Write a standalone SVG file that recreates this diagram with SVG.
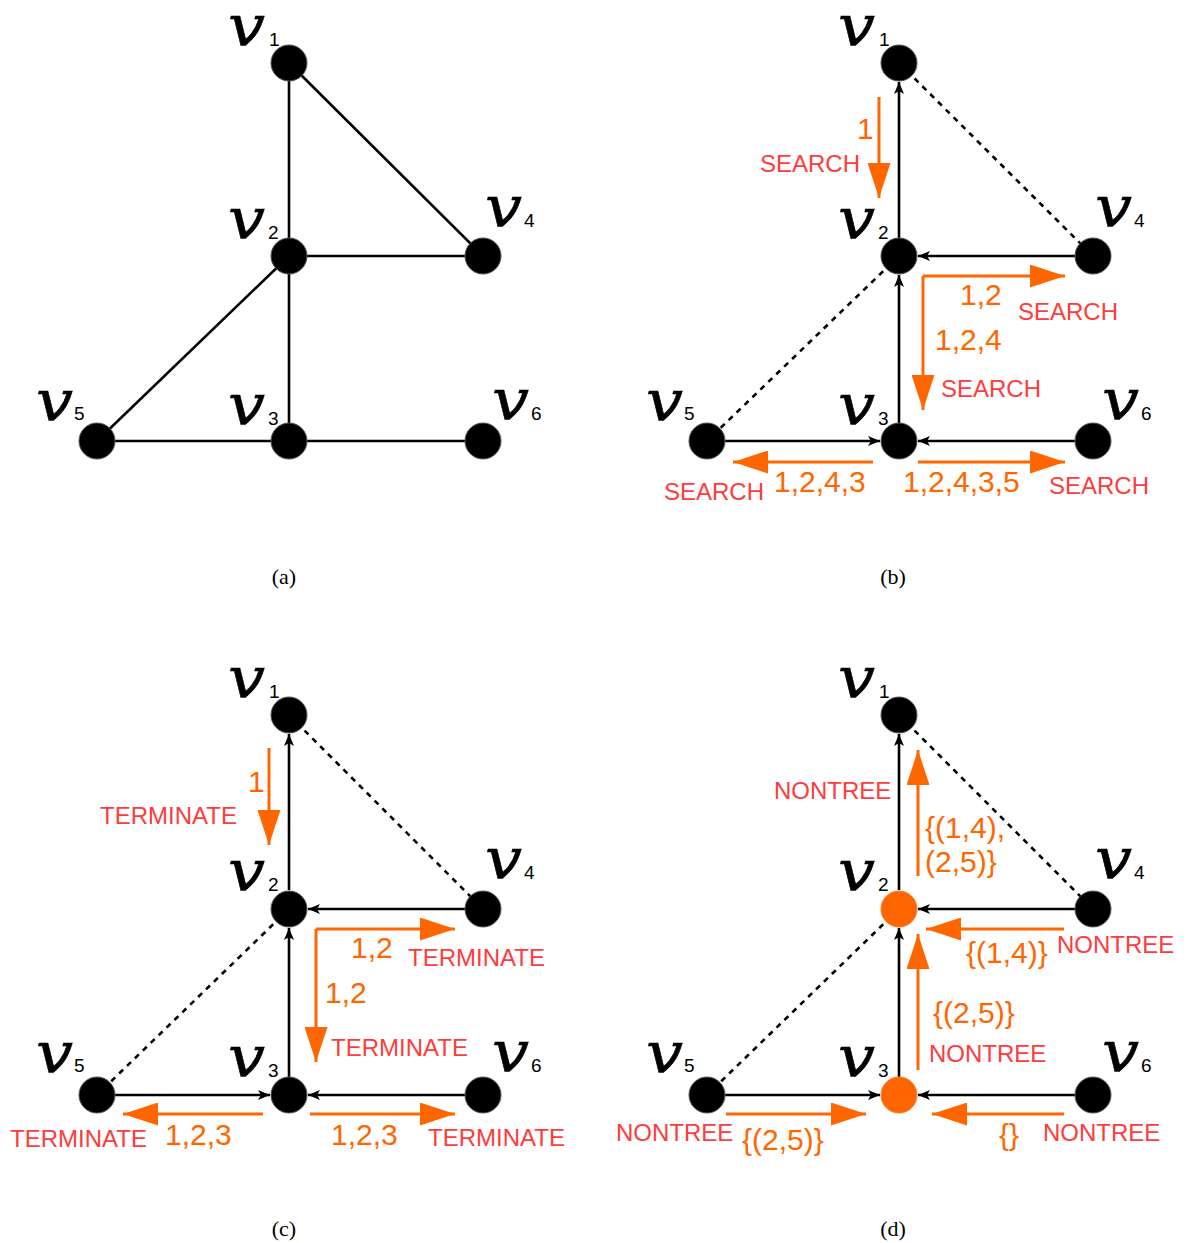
<svg xmlns="http://www.w3.org/2000/svg" width="1187" height="1243" viewBox="0 0 1187 1243">
<style>
.bg{fill:#fff}
.node{fill:#000;stroke:#555;stroke-width:1}
.onode{fill:#ff6600;stroke:#ff7a26;stroke-width:1}
.v{font-family:"DejaVu Serif",serif;font-style:italic;font-size:56px;fill:#000;stroke:#000;stroke-width:0.6}
.sub{font-family:"Liberation Sans",Arial,sans-serif;font-size:19px;fill:#000}
.e{stroke:#000;stroke-width:2.6;fill:none}
.d{stroke:#000;stroke-width:2.6;fill:none;stroke-dasharray:5.5,5.5}
.a{stroke:#000;stroke-width:2.6;fill:none;marker-end:url(#bh)}
.o{stroke:#ff6600;stroke-width:3;fill:none;marker-end:url(#oh)}
.ot{font-family:"Liberation Sans",Arial,sans-serif;font-size:30px;fill:#ff6600}
.rt{font-family:"Liberation Sans",Arial,sans-serif;font-size:24px;fill:#ff3b3b}
.cap{font-family:"Liberation Serif","Times New Roman",serif;font-size:22px;fill:#000;text-anchor:middle}
</style>
<defs>
<marker id="bh" viewBox="0 0 12 10" refX="12" refY="5" markerWidth="12" markerHeight="10" markerUnits="userSpaceOnUse" orient="auto"><path d="M0,0 L12,5 L0,10 L3,5 z" fill="#000"/></marker>
<marker id="oh" viewBox="0 0 35 23" refX="35" refY="11.5" markerWidth="35" markerHeight="23" markerUnits="userSpaceOnUse" orient="auto"><path d="M0,0 L35,11.5 L0,23 z" fill="#ff6600"/></marker>
</defs>
<rect class="bg" x="0" y="0" width="1187" height="1243"/>

<!-- ===== Panel (a) ===== -->
<g id="a-connectors">
<line class="e" x1="289" y1="63" x2="289" y2="256"/>
<line class="e" x1="289" y1="63" x2="483" y2="256"/>
<line class="e" x1="289" y1="256" x2="483" y2="256"/>
<line class="e" x1="289" y1="256" x2="97" y2="441"/>
<line class="e" x1="289" y1="256" x2="289" y2="441"/>
<line class="e" x1="97" y1="441" x2="483" y2="441"/>
</g>
<g id="a-v1"><circle class="node" cx="289" cy="63" r="18"/><text class="v" x="228" y="45" textLength="37" lengthAdjust="spacingAndGlyphs">v</text><text class="sub" x="269" y="46">1</text></g>
<g id="a-v2"><circle class="node" cx="289" cy="256" r="18"/><text class="v" x="228" y="238" textLength="37" lengthAdjust="spacingAndGlyphs">v</text><text class="sub" x="268" y="239">2</text></g>
<g id="a-v4"><circle class="node" cx="483" cy="256" r="18"/><text class="v" x="485" y="226" textLength="37" lengthAdjust="spacingAndGlyphs">v</text><text class="sub" x="524" y="227">4</text></g>
<g id="a-v5"><circle class="node" cx="97" cy="441" r="18"/><text class="v" x="36" y="420" textLength="37" lengthAdjust="spacingAndGlyphs">v</text><text class="sub" x="74" y="420">5</text></g>
<g id="a-v3"><circle class="node" cx="289" cy="441" r="18"/><text class="v" x="228" y="424" textLength="37" lengthAdjust="spacingAndGlyphs">v</text><text class="sub" x="268" y="425">3</text></g>
<g id="a-v6"><circle class="node" cx="483" cy="441" r="18"/><text class="v" x="492" y="419" textLength="37" lengthAdjust="spacingAndGlyphs">v</text><text class="sub" x="531" y="420">6</text></g>
<text class="cap" x="284" y="584">(a)</text>

<!-- ===== Panel (b) ===== -->
<g id="b-connectors">
<line class="a" x1="899" y1="238" x2="899" y2="82"/>
<line class="d" x1="899" y1="63" x2="1093" y2="256"/>
<line class="a" x1="1075" y1="256" x2="918" y2="256"/>
<line class="d" x1="899" y1="256" x2="707" y2="441"/>
<line class="a" x1="899" y1="423" x2="899" y2="275"/>
<line class="a" x1="725" y1="441" x2="880" y2="441"/>
<line class="a" x1="1075" y1="441" x2="918" y2="441"/>
<line class="o" x1="879" y1="97" x2="879" y2="198"/>
<line class="o" x1="923" y1="276" x2="1065" y2="276"/>
<line class="o" x1="923" y1="276" x2="923" y2="410"/>
<line class="o" x1="873" y1="462" x2="733" y2="462"/>
<line class="o" x1="918" y1="462" x2="1065" y2="462"/>
</g>
<g id="b-v1"><circle class="node" cx="899" cy="63" r="18"/><text class="v" x="838" y="45" textLength="37" lengthAdjust="spacingAndGlyphs">v</text><text class="sub" x="879" y="46">1</text></g>
<g id="b-v2"><circle class="node" cx="899" cy="256" r="18"/><text class="v" x="838" y="238" textLength="37" lengthAdjust="spacingAndGlyphs">v</text><text class="sub" x="878" y="239">2</text></g>
<g id="b-v4"><circle class="node" cx="1093" cy="256" r="18"/><text class="v" x="1095" y="226" textLength="37" lengthAdjust="spacingAndGlyphs">v</text><text class="sub" x="1134" y="227">4</text></g>
<g id="b-v5"><circle class="node" cx="707" cy="441" r="18"/><text class="v" x="646" y="420" textLength="37" lengthAdjust="spacingAndGlyphs">v</text><text class="sub" x="684" y="420">5</text></g>
<g id="b-v3"><circle class="node" cx="899" cy="441" r="18"/><text class="v" x="838" y="424" textLength="37" lengthAdjust="spacingAndGlyphs">v</text><text class="sub" x="878" y="425">3</text></g>
<g id="b-v6"><circle class="node" cx="1093" cy="441" r="18"/><text class="v" x="1102" y="419" textLength="37" lengthAdjust="spacingAndGlyphs">v</text><text class="sub" x="1141" y="420">6</text></g>
<g id="b-labels">
<text class="ot" x="857" y="139">1</text>
<text class="rt" x="760" y="172">SEARCH</text>
<text class="ot" x="960" y="305">1,2</text>
<text class="rt" x="1018" y="320">SEARCH</text>
<text class="ot" x="935" y="350">1,2,4</text>
<text class="rt" x="941" y="397">SEARCH</text>
<text class="ot" x="774" y="492">1,2,4,3</text>
<text class="rt" x="664" y="500">SEARCH</text>
<text class="ot" x="903" y="492">1,2,4,3,5</text>
<text class="rt" x="1049" y="494">SEARCH</text>
</g>
<text class="cap" x="893" y="584">(b)</text>

<!-- ===== Panel (c) ===== -->
<g id="c-connectors">
<line class="a" x1="289" y1="890" x2="289" y2="734"/>
<line class="d" x1="289" y1="715" x2="483" y2="909"/>
<line class="a" x1="465" y1="909" x2="308" y2="909"/>
<line class="d" x1="289" y1="909" x2="97" y2="1095"/>
<line class="a" x1="289" y1="1077" x2="289" y2="928"/>
<line class="a" x1="115" y1="1095" x2="270" y2="1095"/>
<line class="a" x1="465" y1="1095" x2="308" y2="1095"/>
<line class="o" x1="269" y1="748" x2="269" y2="845"/>
<line class="o" x1="316" y1="929" x2="455" y2="929"/>
<line class="o" x1="316" y1="929" x2="316" y2="1062"/>
<line class="o" x1="263" y1="1114" x2="123" y2="1114"/>
<line class="o" x1="310" y1="1114" x2="455" y2="1114"/>
</g>
<g id="c-v1"><circle class="node" cx="289" cy="715" r="18"/><text class="v" x="228" y="697" textLength="37" lengthAdjust="spacingAndGlyphs">v</text><text class="sub" x="269" y="698">1</text></g>
<g id="c-v2"><circle class="node" cx="289" cy="909" r="18"/><text class="v" x="228" y="890" textLength="37" lengthAdjust="spacingAndGlyphs">v</text><text class="sub" x="268" y="891">2</text></g>
<g id="c-v4"><circle class="node" cx="483" cy="909" r="18"/><text class="v" x="485" y="878" textLength="37" lengthAdjust="spacingAndGlyphs">v</text><text class="sub" x="524" y="879">4</text></g>
<g id="c-v5"><circle class="node" cx="97" cy="1095" r="18"/><text class="v" x="36" y="1072" textLength="37" lengthAdjust="spacingAndGlyphs">v</text><text class="sub" x="74" y="1072">5</text></g>
<g id="c-v3"><circle class="node" cx="289" cy="1095" r="18"/><text class="v" x="228" y="1076" textLength="37" lengthAdjust="spacingAndGlyphs">v</text><text class="sub" x="268" y="1077">3</text></g>
<g id="c-v6"><circle class="node" cx="483" cy="1095" r="18"/><text class="v" x="492" y="1071" textLength="37" lengthAdjust="spacingAndGlyphs">v</text><text class="sub" x="531" y="1072">6</text></g>
<g id="c-labels">
<text class="ot" x="248" y="792">1</text>
<text class="rt" x="100" y="824">TERMINATE</text>
<text class="ot" x="351" y="958">1,2</text>
<text class="rt" x="408" y="966">TERMINATE</text>
<text class="ot" x="325" y="1003">1,2</text>
<text class="rt" x="331" y="1056">TERMINATE</text>
<text class="ot" x="165" y="1145">1,2,3</text>
<text class="rt" x="10" y="1147">TERMINATE</text>
<text class="ot" x="331" y="1145">1,2,3</text>
<text class="rt" x="428" y="1146">TERMINATE</text>
</g>
<text class="cap" x="284" y="1236">(c)</text>

<!-- ===== Panel (d) ===== -->
<g id="d-connectors">
<line class="a" x1="899" y1="890" x2="899" y2="734"/>
<line class="d" x1="899" y1="715" x2="1093" y2="909"/>
<line class="a" x1="1075" y1="909" x2="918" y2="909"/>
<line class="d" x1="899" y1="909" x2="707" y2="1095"/>
<line class="a" x1="899" y1="1077" x2="899" y2="928"/>
<line class="a" x1="725" y1="1095" x2="880" y2="1095"/>
<line class="a" x1="1075" y1="1095" x2="918" y2="1095"/>
<line class="o" x1="918" y1="876" x2="918" y2="750"/>
<line class="o" x1="1064" y1="929" x2="926" y2="929"/>
<line class="o" x1="918" y1="1070" x2="918" y2="934"/>
<line class="o" x1="726" y1="1114" x2="866" y2="1114"/>
<line class="o" x1="1064" y1="1114" x2="932" y2="1114"/>
</g>
<g id="d-v1"><circle class="node" cx="899" cy="715" r="18"/><text class="v" x="838" y="697" textLength="37" lengthAdjust="spacingAndGlyphs">v</text><text class="sub" x="879" y="698">1</text></g>
<g id="d-v2"><circle class="onode" cx="899" cy="909" r="18"/><text class="v" x="838" y="890" textLength="37" lengthAdjust="spacingAndGlyphs">v</text><text class="sub" x="878" y="891">2</text></g>
<g id="d-v4"><circle class="node" cx="1093" cy="909" r="18"/><text class="v" x="1095" y="878" textLength="37" lengthAdjust="spacingAndGlyphs">v</text><text class="sub" x="1134" y="879">4</text></g>
<g id="d-v5"><circle class="node" cx="707" cy="1095" r="18"/><text class="v" x="646" y="1072" textLength="37" lengthAdjust="spacingAndGlyphs">v</text><text class="sub" x="684" y="1072">5</text></g>
<g id="d-v3"><circle class="onode" cx="899" cy="1095" r="18"/><text class="v" x="838" y="1076" textLength="37" lengthAdjust="spacingAndGlyphs">v</text><text class="sub" x="878" y="1077">3</text></g>
<g id="d-v6"><circle class="node" cx="1093" cy="1095" r="18"/><text class="v" x="1102" y="1071" textLength="37" lengthAdjust="spacingAndGlyphs">v</text><text class="sub" x="1141" y="1072">6</text></g>
<g id="d-labels">
<text class="rt" x="774" y="799">NONTREE</text>
<text class="ot" x="925" y="838">{(1,4),</text>
<text class="ot" x="925" y="872">(2,5)}</text>
<text class="ot" x="966" y="963">{(1,4)}</text>
<text class="rt" x="1057" y="953">NONTREE</text>
<text class="ot" x="933" y="1023">{(2,5)}</text>
<text class="rt" x="929" y="1062">NONTREE</text>
<text class="rt" x="616" y="1141">NONTREE</text>
<text class="ot" x="742" y="1150">{(2,5)}</text>
<text class="ot" x="999" y="1145">{}</text>
<text class="rt" x="1043" y="1141">NONTREE</text>
</g>
<text class="cap" x="893" y="1236">(d)</text>
</svg>
